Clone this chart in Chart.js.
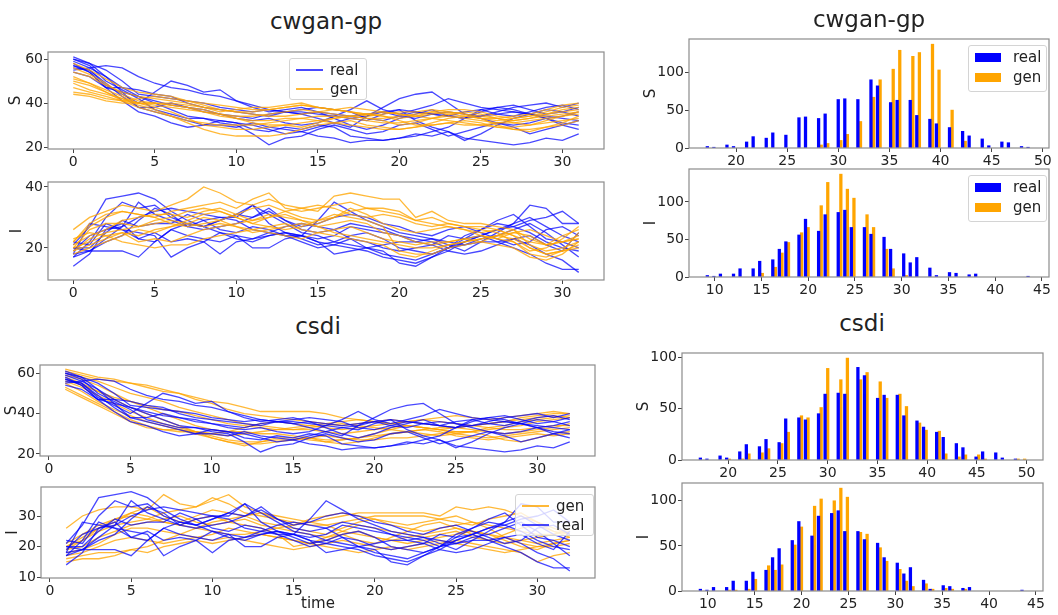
<!DOCTYPE html>
<html>
<head>
<meta charset="utf-8">
<script src="https://cdn.jsdelivr.net/npm/chart.js@4.4.0/dist/chart.umd.min.js"></script>
<style>
  body { margin: 0; background: #fff; font-family: 'DejaVu Sans', sans-serif; color: #222; }
  #fig { position: relative; width: 1058px; height: 615px; overflow: hidden; }
  canvas { position: absolute; }
  .ttl { position: absolute; font-size: 23px; transform: translate(-50%, -50%); white-space: nowrap; }
  .leg { position: absolute; background: rgba(255,255,255,0.8); border: 1px solid #d4d4d4; border-radius: 3px; font-size: 15px; }
  .leg .it { position: absolute; white-space: nowrap; line-height: 16px; }
  .leg .ln { position: absolute; height: 2px; }
  .leg .pt { position: absolute; }
</style>
</head>
<body>
<div id="fig"></div>
<script>
// time steps
const tCw = [0,1,2,3,4,5,6,7,8,9,10,11,12,13,14,15,16,17,18,19,20,21,22,23,24,25,26,27,28,29,30,31];
const tCsdi = [1,2,3,4,5,6,7,8,9,10,11,12,13,14,15,16,17,18,19,20,21,22,23,24,25,26,27,28,29,30,31,32];

// real trajectories (same for both models)
const realS = [
  [55,56,57,56,52,49,47,46,44,43,41,39,37,36,36,35,34,33,34,36,37,36,35,34,33,34,35,36,35,34,33,32],
  [57,55,48,44,40,45,50,48,45,46,41,38,36,37,38,36,33,30,28,30,33,35,37,34,33,36,38,39,37,35,36,38],
  [60,57,50,46,42,37,35,33,33,31,30,26,21,24,25,28,30,28,26,27,30,31,28,25,27,29,31,29,26,28,30,32],
  [61,58,52,45,38,36,34,32,30,30,29,31,29,28,27,25,24,22,23,23,24,26,25,27,24,23,22,21,22,24,23,26],
  [58,54,47,47,46,44,43,40,38,37,36,35,34,36,35,33,31,29,34,38,42,44,45,40,35,33,31,30,31,33,34,36],
  [56,55,49,43,38,38,40,38,36,35,33,32,33,31,30,31,34,37,41,37,35,37,39,42,40,38,37,36,35,33,31,30],
  [59,56,52,47,43,41,39,38,37,35,34,33,35,36,35,36,35,34,35,36,34,33,35,36,35,34,36,38,39,40,38,40],
  [54,52,47,45,43,40,37,34,33,32,31,30,28,26,27,29,31,33,32,35,37,32,29,27,23,26,30,33,35,37,36,34],
  [57,54,47,41,36,34,31,29,30,32,31,28,27,29,28,30,29,25,24,23,24,25,27,29,33,37,38,37,35,33,30,28],
  [60,58,55,50,44,43,42,41,40,38,37,36,37,36,37,38,37,36,33,32,34,36,35,34,36,37,35,34,36,38,39,37]
];
const realI = [
  [21,27,36,37,38,36,32,29,27,25,23,22,24,25,24,22,21,20,19,17,16,15,17,19,22,24,26,28,30,27,24,22],
  [17,22,30,35,33,34,30,28,27,29,31,34,31,28,25,24,22,21,20,19,15,14,17,20,23,24,22,20,18,15,13,13],
  [20,19,19,19,17,22,26,28,27,29,31,30,33,29,26,25,26,23,20,18,17,16,18,20,24,26,28,27,25,22,20,19],
  [14,18,26,27,35,31,29,27,29,30,30,34,28,25,24,29,35,32,29,27,25,24,23,21,19,22,25,28,34,33,28,28],
  [18,28,27,26,25,24,17,20,22,25,24,20,20,23,24,22,18,19,20,21,22,22,23,22,21,23,24,26,28,25,21,17],
  [19,24,26,28,23,25,22,23,22,18,22,23,24,25,23,21,22,24,25,23,20,19,18,20,21,22,22,23,21,18,16,12],
  [18,19,22,24,29,33,31,27,26,27,28,30,32,29,27,28,30,31,30,28,27,25,24,26,27,25,23,21,22,26,27,24],
  [20,20,25,29,27,28,28,31,29,26,25,27,26,24,24,23,24,27,26,25,24,22,21,24,23,26,29,31,27,23,22,20],
  [22,21,28,26,23,22,26,24,23,22,24,23,25,24,22,20,21,23,22,20,19,20,21,19,18,19,21,23,24,21,19,25],
  [17,19,23,27,30,32,33,32,31,30,29,26,25,27,28,27,26,28,27,26,24,23,22,20,22,24,26,27,29,30,32,28]
];

// cwgan-gp generated trajectories
const cwganS = [
  [58,55,51,47,45,44,43,41,40,39,38,37,37,38,39,38,37,36,35,36,35,34,35,36,35,34,33,34,35,37,39,40],
  [54,52,48,45,43,42,41,40,38,36,37,38,38,39,40,38,37,36,34,35,36,36,37,36,35,33,32,33,34,36,38,39],
  [51,49,46,43,40,38,36,33,30,29,28,28,29,30,29,31,33,34,33,32,30,31,33,35,36,35,33,31,30,32,34,36],
  [50,48,45,42,39,37,34,31,28,26,25,25,25,26,28,30,31,32,30,29,28,29,31,33,34,33,30,28,27,29,31,34],
  [49,46,44,42,40,39,38,37,36,35,34,34,35,36,37,36,35,34,33,33,34,35,36,35,34,33,33,32,33,34,35,36],
  [47,45,43,41,40,40,39,38,36,34,33,32,32,33,33,34,34,33,32,31,31,32,33,34,33,32,31,31,32,33,34,35],
  [45,44,42,41,42,43,42,41,39,37,36,36,37,38,39,38,37,36,35,34,33,34,36,37,37,36,34,33,34,35,36,37],
  [44,43,41,40,40,40,39,38,37,35,33,31,30,30,31,32,33,34,35,34,32,30,30,31,32,31,29,28,28,29,30,32],
  [52,49,45,41,38,36,34,32,31,30,30,30,31,32,33,32,31,30,29,28,28,29,30,31,30,30,29,29,30,31,32,33],
  [56,53,49,44,41,40,40,39,38,37,36,35,34,34,35,36,37,38,37,36,35,34,33,32,31,30,31,32,33,35,37,38]
];
const cwganI = [
  [26,30,32,34,33,32,34,36,40,38,35,34,36,34,33,32,37,38,37,36,36,30,32,29,28,28,27,26,21,19,20,22],
  [22,27,30,32,31,30,32,33,34,35,33,36,38,33,32,33,34,35,33,32,31,29,30,28,27,27,26,24,20,18,19,21],
  [21,24,26,29,30,31,31,30,32,33,31,29,30,32,33,34,33,31,30,31,30,28,27,28,27,26,25,22,18,17,19,20],
  [20,26,28,28,27,29,30,32,33,32,30,28,30,31,29,28,30,32,33,33,32,29,28,27,26,25,26,24,22,21,22,24],
  [19,23,25,26,27,28,29,28,27,28,27,26,27,28,26,25,26,27,25,23,22,21,22,22,23,24,23,25,24,21,22,23],
  [18,20,22,24,26,25,27,28,30,29,27,25,26,27,28,27,25,24,23,22,21,20,20,21,22,23,24,23,20,18,19,25],
  [23,25,24,25,22,23,22,24,26,27,28,29,31,30,29,27,28,29,28,25,24,22,21,22,23,22,21,20,17,16,18,22],
  [20,22,24,22,21,20,21,21,23,24,25,26,25,24,23,25,24,23,22,21,18,17,19,21,22,23,24,25,26,24,22,23],
  [19,21,23,25,24,26,27,29,31,32,30,28,27,26,27,29,31,30,29,27,19,18,18,20,21,22,24,26,23,21,24,26],
  [22,28,31,32,31,30,28,27,28,29,31,33,34,32,30,29,30,33,31,28,26,25,26,27,26,24,23,22,19,20,23,27]
];

// csdi generated trajectories
const csdiS = [
  [62,60,58,57,55,53,51,50,48,46,45,43,41,41,41,41,40,38,37,36,35,36,37,38,39,38,37,38,39,40,41,40],
  [61,59,57,56,55,54,52,50,47,45,42,40,39,38,37,36,35,34,35,36,37,36,35,34,33,34,35,36,38,39,40,40],
  [60,58,56,53,50,48,46,43,41,39,37,35,34,33,32,32,31,30,31,32,33,34,33,32,31,31,32,33,34,36,37,38],
  [59,57,54,50,46,43,40,37,34,32,31,31,30,30,29,28,27,27,28,29,30,31,32,33,33,32,31,30,31,32,33,35],
  [58,55,51,47,43,40,37,34,31,28,26,24,26,28,28,27,26,27,28,30,32,34,33,32,30,29,28,29,30,31,32,33],
  [56,53,49,45,41,38,35,33,31,29,27,26,26,27,27,28,29,28,27,27,28,28,29,30,31,31,29,27,26,28,30,31],
  [55,51,46,42,39,36,34,32,30,28,26,25,25,26,27,28,26,25,26,28,30,31,32,31,29,28,27,28,29,30,29,30],
  [53,49,45,41,37,34,32,32,31,30,29,30,31,32,33,34,35,36,37,36,35,34,33,32,33,34,35,36,37,38,39,38],
  [52,48,44,40,36,33,32,31,31,30,31,33,35,36,35,34,33,32,33,34,35,36,37,36,35,34,33,32,32,33,34,34],
  [57,54,51,48,46,44,42,41,39,37,35,34,33,32,32,33,34,35,34,33,32,31,30,29,30,31,33,34,36,37,38,39]
];
const csdiI = [
  [26,30,32,33,33,32,37,34,33,35,37,33,31,29,27,28,29,30,31,31,31,31,31,30,33,32,33,32,30,28,26,24],
  [21,24,27,29,30,29,31,32,33,36,34,31,30,29,28,27,27,28,29,30,30,30,30,29,28,27,29,30,31,28,25,23],
  [20,22,26,28,31,33,30,28,30,32,31,30,28,27,26,25,24,26,28,29,27,26,25,26,27,28,26,23,21,20,21,22],
  [19,20,23,25,27,28,29,30,28,27,28,29,27,26,25,24,23,25,27,26,25,24,23,24,25,23,22,24,26,27,25,24],
  [18,19,21,24,26,26,25,24,23,24,26,25,24,23,22,21,22,24,25,23,22,21,22,23,24,25,24,22,20,19,21,22],
  [17,18,20,22,23,22,21,22,23,22,23,22,21,20,19,20,21,22,21,20,19,20,21,22,21,20,19,18,19,20,20,21],
  [16,17,18,18,19,18,20,21,22,21,22,23,24,23,22,21,20,19,18,19,20,19,20,21,22,21,20,19,18,15,17,18],
  [15,16,16,17,19,20,22,24,26,28,29,30,31,30,29,28,27,25,24,23,22,23,24,25,26,25,24,23,22,21,22,23],
  [19,22,25,27,28,29,28,27,26,25,24,24,25,26,27,29,30,31,30,29,28,27,28,29,30,28,27,26,25,24,24,25],
  [20,23,26,29,31,30,28,27,29,30,28,27,26,24,20,21,23,24,22,21,23,25,27,28,26,24,22,21,22,23,24,26]
];

// histogram counts per integer value
const sVals = [17,18,19,20,21,22,23,24,25,26,27,28,29,30,31,32,33,34,35,36,37,38,39,40,41,42,43,44,45,46,47,48,49,50];
const realSCount = [2,1,4,2,8,15,13,20,17,40,41,39,45,64,65,64,90,82,60,63,63,43,38,32,27,22,16,12,3,8,7,2,1,0];
const cwganSCount = [0,0,0,0,0,0,0,0,0,0,0,4,6,10,18,35,67,90,104,129,121,126,137,103,50,9,0,0,0,0,0,0,0,0];
const csdiSCount = [0,0,0,1,1,6,7,11,16,27,43,41,51,89,78,99,78,85,76,60,64,52,36,29,28,6,3,5,5,1,0,0,1,1];

const iVals = [9,10,11,12,13,14,15,16,17,18,19,20,21,22,23,24,25,26,27,28,29,30,31,32,33,34,35,36,37,38,39,40,41,42,43,44];
const realICount = [2,1,4,4,11,11,21,23,37,47,56,77,61,83,86,89,66,66,57,53,37,31,19,26,12,2,6,5,3,4,0,0,0,0,0,1];
const cwganICount = [0,0,0,0,0,0,5,13,32,46,59,66,95,126,137,117,105,83,66,37,11,2,0,0,0,0,0,0,0,0,0,0,0,0,0,0];
const csdiICount = [0,0,0,1,1,2,13,28,23,29,51,71,94,102,100,114,104,65,63,48,33,24,11,5,8,2,3,2,2,0,0,0,0,0,0,0];

const BLUE = 'rgba(0,0,255,0.72)';
const ORANGE = 'rgba(255,165,0,0.78)';

Chart.defaults.font.family = 'DejaVu Sans';
Chart.defaults.color = '#222';
Chart.defaults.animation = false;

const fig = document.getElementById('fig');

const frame = {
  id: 'frame',
  afterDatasetsDraw(chart) {
    const a = chart.chartArea, c = chart.ctx;
    c.save();
    c.strokeStyle = '#8c8c8c';
    c.lineWidth = 1.2;
    c.strokeRect(a.left, a.top, a.right - a.left, a.bottom - a.top);
    c.restore();
  }
};

const PAD_T = 12, PAD_R = 14;

const axis = (range, ticks, size, horiz, title) => ({
  type: 'linear',
  min: range[0],
  max: range[1],
  offset: false,
  grid: { drawOnChartArea: false, drawTicks: true, tickLength: 4, color: '#444', offset: false },
  border: { display: false },
  ticks: { font: { size: 14 }, padding: 1, maxRotation: 0, autoSkip: false, callback: v => String(v) },
  afterBuildTicks: s => { s.ticks = ticks.map(v => ({ value: v })); },
  afterFit: s => { if (horiz) s.height = size; else s.width = size; },
  title: title ? { display: true, text: title, font: { size: 15 }, padding: { top: 0, bottom: horiz ? 1 : 0 } } : { display: false }
});

function panel(box, yw, xh, type, datasets, xr, yr, xTicks, yTicks, yTitle, xTitle) {
  const cv = document.createElement('canvas');
  const w = box.r - box.l + yw + PAD_R, h = box.b - box.t + PAD_T + xh;
  cv.width = w; cv.height = h;
  cv.style.left = (box.l - yw) + 'px';
  cv.style.top = (box.t - PAD_T) + 'px';
  fig.appendChild(cv);
  new Chart(cv.getContext('2d'), {
    type: type,
    data: { datasets: datasets },
    options: {
      responsive: false,
      layout: { padding: { left: 0, top: PAD_T, right: PAD_R, bottom: 0 } },
      plugins: { legend: { display: false }, tooltip: { enabled: false } },
      scales: {
        x: axis(xr, xTicks, xh, true, xTitle),
        y: axis(yr, yTicks, yw, false, yTitle)
      }
    },
    plugins: [frame]
  });
}

const lines = (series, t, color, order) => series.map(s => ({
  data: s.map((v, i) => ({ x: t[i], y: v })),
  borderColor: color, borderWidth: 1.3, pointRadius: 0, tension: 0, fill: false, order: order
}));

// matplotlib style hist([real, gen], bins=50)
function hist(vals, real, gen, box) {
  const used = vals.filter((v, i) => real[i] > 0 || gen[i] > 0);
  const lo = Math.min(...used), hi = Math.max(...used), nb = 50, w = (hi - lo) / nb;
  const edge = v => { let k = Math.floor((v - lo) / w); if (k >= nb) k = nb - 1; return lo + k * w; };
  const pts = (counts, f) => vals.map((v, i) => ({ x: edge(v) + f * w, y: counts[i] })).filter(p => p.y > 0);
  const xr = [lo - 0.05 * (hi - lo), hi + 0.05 * (hi - lo)];
  const bt = (box.r - box.l) / (xr[1] - xr[0]) * 0.4 * w;
  const sets = [
    { data: pts(real, 0.3), backgroundColor: '#0000ff', grouped: false, barThickness: bt, borderWidth: 0 },
    { data: pts(gen, 0.7), backgroundColor: '#ffa500', grouped: false, barThickness: bt, borderWidth: 0 }
  ];
  return { sets, xr, top: Math.max(...real, ...gen) * 1.05 };
}

const xTicksLine = [0, 5, 10, 15, 20, 25, 30];

// cwgan-gp line panels
const bA = { l: 48, t: 52, r: 604, b: 149 };
panel(bA, 41, 22, 'line', [...lines(realS, tCw, BLUE, 1), ...lines(cwganS, tCw, ORANGE, 0)],
  [-1.55, 32.55], [19.1, 63.2], xTicksLine, [20, 40, 60], 'S');
const bB = { l: 48, t: 182, r: 604, b: 280 };
panel(bB, 40, 22, 'line', [...lines(realI, tCw, BLUE, 1), ...lines(cwganI, tCw, ORANGE, 0)],
  [-1.55, 32.55], [9.5, 41.6], xTicksLine, [20, 40], 'I');

// csdi line panels
const bC = { l: 40, t: 365, r: 595, b: 456 };
panel(bC, 37, 22, 'line', [...lines(realS, tCsdi, BLUE, 0), ...lines(csdiS, tCsdi, ORANGE, 1)],
  [-0.55, 33.55], [19.0, 64.0], xTicksLine, [20, 40, 60], 'S');
const bD = { l: 41, t: 487, r: 595, b: 578 };
panel(bD, 37, 36, 'line', [...lines(realI, tCsdi, BLUE, 0), ...lines(csdiI, tCsdi, ORANGE, 1)],
  [-0.55, 33.55], [9.7, 39.5], xTicksLine, [10, 20, 30], 'I', 'time');

// histograms
const bE = { l: 689, t: 39, r: 1049, b: 148 };
const hE = hist(sVals, realSCount, cwganSCount, bE);
panel(bE, 47, 22, 'bar', hE.sets, hE.xr, [0, hE.top], [20, 25, 30, 35, 40, 45, 50], [0, 50, 100], 'S');
const bF = { l: 689, t: 169, r: 1049, b: 277 };
const hF = hist(iVals, realICount, cwganICount, bF);
panel(bF, 47, 22, 'bar', hF.sets, hF.xr, [0, hF.top], [10, 15, 20, 25, 30, 35, 40, 45], [0, 50, 100], 'I');
const bG = { l: 682, t: 353, r: 1043, b: 460 };
const hG = hist(sVals, realSCount, csdiSCount, bG);
panel(bG, 47, 22, 'bar', hG.sets, hG.xr, [0, hG.top], [20, 25, 30, 35, 40, 45, 50], [0, 50, 100], 'S');
const bH = { l: 682, t: 483, r: 1043, b: 591 };
const hH = hist(iVals, realICount, csdiICount, bH);
panel(bH, 47, 22, 'bar', hH.sets, hH.xr, [0, hH.top], [10, 15, 20, 25, 30, 35, 40, 45], [0, 50, 100], 'I');

// titles
function title(text, x, y) {
  const d = document.createElement('div');
  d.className = 'ttl'; d.textContent = text;
  d.style.left = x + 'px'; d.style.top = y + 'px';
  fig.appendChild(d);
}
title('cwgan-gp', 326, 21);
title('cwgan-gp', 869, 19);
title('csdi', 318, 326);
title('csdi', 862, 323);

// legends
function legend(x, y, w, h, items, kind) {
  const d = document.createElement('div');
  d.className = 'leg';
  d.style.left = x + 'px'; d.style.top = y + 'px';
  d.style.width = w + 'px'; d.style.height = h + 'px';
  items.forEach((it, i) => {
    const cy = kind === 'line' ? 11 + i * 19 : 11 + i * 20;
    const m = document.createElement('div');
    if (kind === 'line') {
      m.className = 'ln';
      m.style.left = '6px'; m.style.width = '27px'; m.style.top = (cy - 1) + 'px';
      m.style.background = it.color;
    } else {
      m.className = 'pt';
      m.style.left = '6px'; m.style.width = '26px'; m.style.height = '9px';
      m.style.top = (cy - 4) + 'px'; m.style.background = it.color;
    }
    d.appendChild(m);
    const t = document.createElement('div');
    t.className = 'it';
    t.textContent = it.label;
    t.style.left = (kind === 'line' ? 40 : 44) + 'px';
    t.style.top = (cy - 8) + 'px';
    d.appendChild(t);
  });
  fig.appendChild(d);
}
legend(289, 58, 76, 40, [{ label: 'real', color: BLUE }, { label: 'gen', color: ORANGE }], 'line');
legend(515, 494, 77, 40, [{ label: 'gen', color: ORANGE }, { label: 'real', color: BLUE }], 'line');
legend(968, 45, 77, 45, [{ label: 'real', color: '#0000ff' }, { label: 'gen', color: '#ffa500' }], 'patch');
legend(968, 175, 77, 45, [{ label: 'real', color: '#0000ff' }, { label: 'gen', color: '#ffa500' }], 'patch');
</script>
</body>
</html>
